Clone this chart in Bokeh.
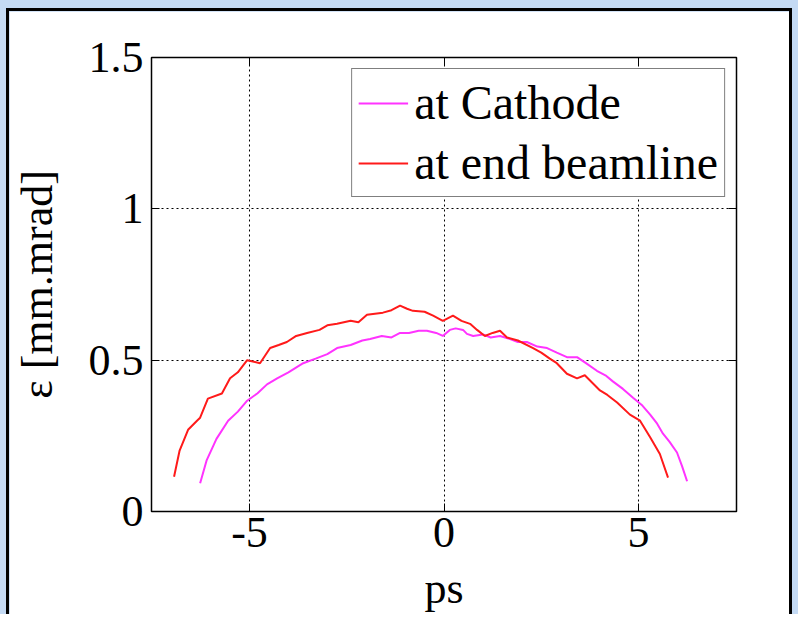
from bokeh.plotting import figure
from bokeh.models import Range1d, FixedTicker, LinearAxis, Legend, LegendItem
from bokeh.layouts import column
from bokeh.embed import file_html
from bokeh.resources import INLINE

# ---- data ----
cathode_x = [-6.27, -6.1, -5.85, -5.55, -5.3, -5.06, -4.8, -4.55, -4.29, -4.0, -3.62, -3.3, -3.0, -2.75,
             -2.4, -2.1, -1.9, -1.6, -1.35, -1.13, -0.9, -0.65, -0.44, -0.2, -0.03, 0.15, 0.3, 0.49,
             0.59, 0.75, 1.0, 1.2, 1.44, 1.7, 1.9, 2.13, 2.4, 2.65, 2.9, 3.16, 3.42, 3.65, 3.93,
             4.15, 4.34, 4.6, 4.86, 5.1, 5.3, 5.48, 5.63, 5.8, 5.99, 6.12, 6.25]
cathode_y = [0.093, 0.17, 0.24, 0.30, 0.33, 0.366, 0.39, 0.42, 0.44, 0.46, 0.49, 0.505, 0.52, 0.54,
             0.55, 0.565, 0.57, 0.58, 0.575, 0.59, 0.59, 0.597, 0.597, 0.59, 0.58, 0.60, 0.605, 0.60,
             0.587, 0.58, 0.585, 0.575, 0.58, 0.57, 0.56, 0.56, 0.545, 0.54, 0.525, 0.51, 0.51, 0.49, 0.465,
             0.45, 0.43, 0.405, 0.376, 0.35, 0.32, 0.29, 0.257, 0.23, 0.195, 0.15, 0.10]

beam_x = [-6.94, -6.8, -6.58, -6.35, -6.27, -6.07, -5.71, -5.5, -5.3, -5.06, -4.73, -4.47, -4.25, -4.04,
          -3.8, -3.52, -3.2, -3.0, -2.75, -2.4, -2.2, -1.98, -1.57, -1.35, -1.13, -0.95, -0.8, -0.5,
          -0.28, -0.03, 0.23, 0.45, 0.67, 0.85, 1.05, 1.25, 1.44, 1.62, 1.9, 2.29, 2.5, 2.72, 2.9,
          3.16, 3.42, 3.62, 4.01, 4.2, 4.45, 4.78, 5.04, 5.30, 5.55, 5.76]
beam_y = [0.115, 0.2, 0.27, 0.30, 0.31, 0.373, 0.39, 0.44, 0.46, 0.50, 0.49, 0.54, 0.55, 0.56,
          0.58, 0.59, 0.6, 0.615, 0.62, 0.63, 0.625, 0.65, 0.657, 0.665, 0.68, 0.67, 0.663, 0.66,
          0.647, 0.63, 0.647, 0.63, 0.62, 0.60, 0.58, 0.59, 0.597, 0.575, 0.565, 0.54, 0.525, 0.505, 0.49,
          0.455, 0.44, 0.45, 0.40, 0.385, 0.36, 0.32, 0.30, 0.245, 0.19, 0.112]

x_ticks = [-5, 0, 5]
x_tick_labels = ["-5", "0", "5"]
y_ticks = [0, 0.5, 1, 1.5]
y_tick_labels = ["0", "0.5", "1", "1.5"]

FONT = "Liberation Serif"

p = figure(width=786, height=606, output_backend="svg", toolbar_location=None,
           x_range=Range1d(-7.52, 7.52), y_range=Range1d(0, 1.5),
           min_border_left=142, min_border_right=59, min_border_top=46, min_border_bottom=106,
           background_fill_color="white", border_fill_color="white",
           styles={"border-top": "3px solid black", "border-left": "3px solid black",
                   "border-right": "3px solid black"})

p.outline_line_color = "black"
p.outline_line_width = 1.5

# grid
for g in (p.xgrid, p.ygrid):
    g.grid_line_color = "black"
    g.grid_line_dash = "2 3"
    g.grid_line_width = 1
p.xgrid.ticker = FixedTicker(ticks=x_ticks)
p.ygrid.ticker = FixedTicker(ticks=y_ticks)

def style_axis(ax, ticks, labels, show_labels=True):
    ax.ticker = FixedTicker(ticks=ticks)
    if show_labels:
        ax.major_label_overrides = {t: l for t, l in zip(ticks, labels)}
    else:
        ax.major_label_overrides = {t: "" for t in ticks}
    ax.major_tick_in = 8
    ax.major_tick_out = 0
    ax.minor_tick_in = 0
    ax.minor_tick_out = 0
    ax.axis_line_color = None
    ax.major_tick_line_color = "black"
    ax.major_label_text_font = FONT
    ax.major_label_text_font_size = "44px"
    ax.major_label_text_color = "black"
    ax.axis_label_text_font = FONT
    ax.axis_label_text_font_size = "44px"
    ax.axis_label_text_font_style = "normal"
    ax.axis_label_text_color = "black"

style_axis(p.xaxis[0], x_ticks, x_tick_labels)
style_axis(p.yaxis[0], y_ticks, y_tick_labels)
p.xaxis[0].axis_label = "ps"
p.yaxis[0].axis_label = "ε [mm.mrad]"
p.xaxis[0].major_label_standoff = 6
p.xaxis[0].axis_label_standoff = 14
p.yaxis[0].major_label_standoff = 8
p.yaxis[0].axis_label_standoff = 24

top_ax = LinearAxis()
right_ax = LinearAxis()
style_axis(top_ax, x_ticks, x_tick_labels, show_labels=False)
style_axis(right_ax, y_ticks, y_tick_labels, show_labels=False)
p.add_layout(top_ax, "above")
p.add_layout(right_ax, "right")

r1 = p.line(cathode_x, cathode_y, line_color="#ff33ff", line_width=2)
r2 = p.line(beam_x, beam_y, line_color="#ff1a1a", line_width=2)

legend = Legend(items=[LegendItem(label="at Cathode", renderers=[r1]),
                       LegendItem(label="at end beamline", renderers=[r2])],
                location="top_right", margin=11)
legend.border_line_color = "black"
legend.border_line_width = 1
legend.background_fill_color = "white"
legend.background_fill_alpha = 1
legend.label_text_font = FONT
legend.label_text_font_size = "48px"
legend.label_text_color = "black"
legend.glyph_width = 50
legend.glyph_height = 52
legend.label_height = 52
legend.label_standoff = 6
legend.padding = 6
legend.spacing = 5
p.add_layout(legend, "center")

layout = column(p, styles={"background-color": "#c4daf4", "padding": "8px 6px 0px 6px"})

open("out.html", "w").write(file_html(layout, INLINE))
